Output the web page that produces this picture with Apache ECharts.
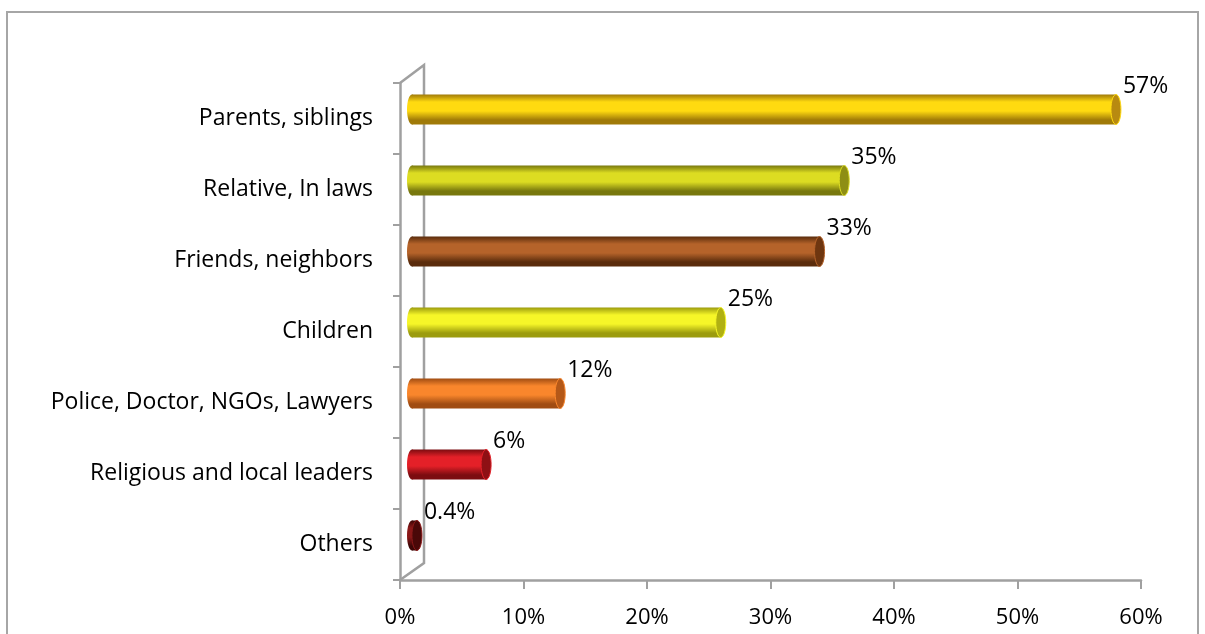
<!DOCTYPE html>
<html><head><meta charset="utf-8">
<script src="https://cdn.jsdelivr.net/npm/echarts@6/dist/echarts.min.js"></script>
<style>html,body{margin:0;padding:0;background:#fff}#c{width:1205px;height:634px}</style>
</head><body><div id="c"></div>
<script>
const categories = ['Parents, siblings','Relative, In laws','Friends, neighbors','Children','Police, Doctor, NGOs, Lawyers','Religious and local leaders','Others'];
const values = [57, 35, 33, 25, 12, 6, 0.4];
const valueLabels = ['57%','35%','33%','25%','12%','6%','0.4%'];
const lightColors = ['#FFDA10','#DCDC22','#B5632A','#F6F628','#F9862C','#E42028','#8A1818'];
const darkColors  = ['#A07A08','#78780E','#5A2C0C','#9C9C0E','#A04C12','#7C0C10','#3C0606'];
const capColors   = ['#B88A10','#8E8E14','#6E3610','#B0B012','#B45818','#8E1014','#4A0808'];

const DX = 12, DY = -9, H = 30, R = 5;
const FONT = '"Open Sans", Lato, sans-serif';

function grad(light, dark){
  return new echarts.graphic.LinearGradient(0,0,0,1,[
    {offset:0,color:dark},{offset:0.25,color:light},{offset:0.55,color:light},{offset:0.85,color:dark},{offset:1,color:dark}
  ]);
}

function renderBar(params, api){
  const i = params.dataIndex;
  const val = api.value(0), cat = api.value(1);
  const s = api.coord([0, cat]);
  const e = api.coord([val, cat]);
  const cy = s[1] + DY;
  const x0 = s[0] + DX, x1 = e[0] + DX;
  const w = Math.max(x1 - x0, 0);
  const fill = grad(lightColors[i], darkColors[i]);
  return {type:'group', children:[
    {type:'ellipse', shape:{cx:x0, cy:cy, rx:R, ry:H/2}, style:{fill:fill}},
    {type:'rect', shape:{x:x0, y:cy-H/2, width:w, height:H}, style:{fill:fill}},
    {type:'ellipse', shape:{cx:x1, cy:cy, rx:R, ry:H/2}, style:{fill:capColors[i], stroke:lightColors[i], lineWidth:1}},
    {type:'text', x:x1+7, y:cy-23, style:{text:valueLabels[i], fill:'#000', font:'23px ' + FONT, verticalAlign:'middle', align:'left'}}
  ]};
}

function renderWall(params, api){
  const cs = params.coordSys;
  const x0 = cs.x, yT = cs.y, yB = cs.y + cs.height;
  const bx = x0 + 2*DX, byT = yT + 2*DY, byB = yB - 17;
  return {type:'polyline', shape:{points:[[x0,yT],[bx,byT],[bx,byB],[x0,yB]]}, style:{stroke:'#a0a0a0', lineWidth:2.5, fill:null}};
}

const chart = echarts.init(document.getElementById('c'), null, {renderer:'canvas'});
chart.setOption({
  animation:false,
  backgroundColor:'#fff',
  graphic:[{type:'rect', shape:{x:7, y:12, width:1191, height:640}, style:{fill:null, stroke:'#a6a6a6', lineWidth:2}, silent:true}],
  grid:{left:400, right:64, top:83, bottom:54, containLabel:false},
  xAxis:{type:'value', min:0, max:60, interval:10,
    axisLine:{show:true, lineStyle:{color:'#a0a0a0', width:2.5}},
    axisTick:{show:true, length:9, lineStyle:{color:'#a0a0a0', width:2}},
    splitLine:{show:false},
    axisLabel:{formatter:'{value}%', color:'#000', fontSize:22, fontFamily:FONT, margin:27}},
  yAxis:{type:'category', data:categories, inverse:true,
    axisLine:{show:true, lineStyle:{color:'#a0a0a0', width:2.5}},
    axisTick:{show:true, length:7, lineStyle:{color:'#a0a0a0', width:2}},
    axisLabel:{color:'#000', fontSize:23, fontFamily:FONT, margin:27}},
  series:[
    {type:'custom', renderItem:renderWall, data:[[0,0]], encode:{x:0,y:1}, z:1, silent:true},
    {type:'custom', renderItem:renderBar, data:values.map((v,i)=>[v,i]), encode:{x:0,y:1}, z:2}
  ]
});
</script></body></html>
